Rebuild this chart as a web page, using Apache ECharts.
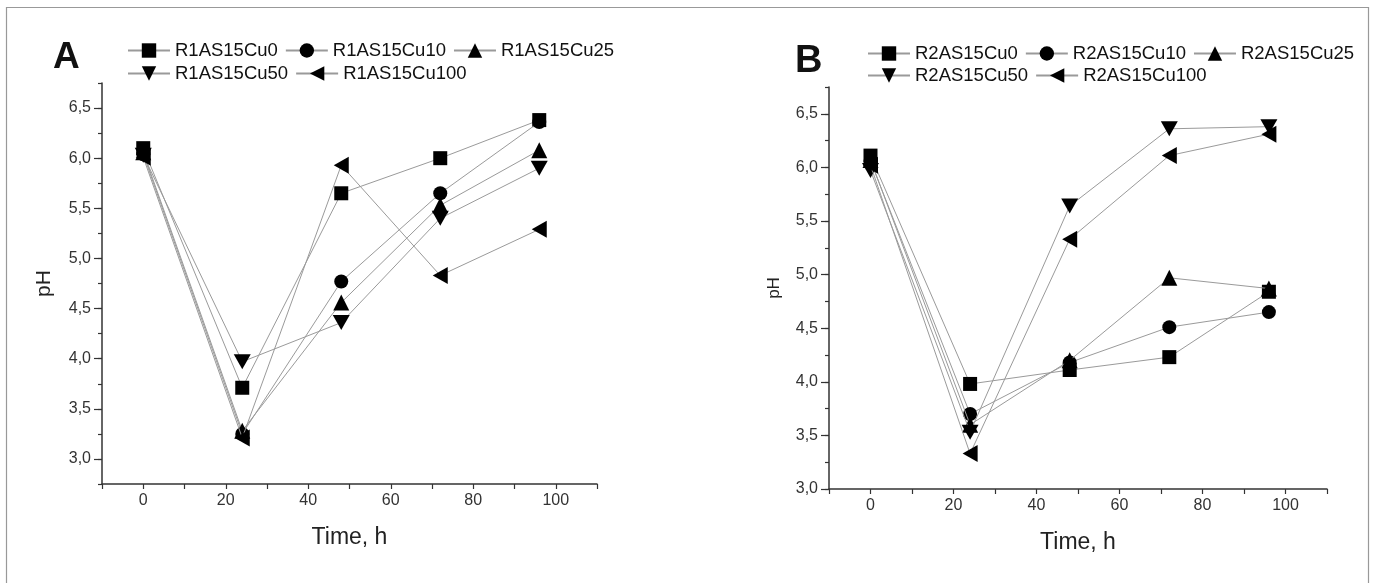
<!DOCTYPE html>
<html><head><meta charset="utf-8">
<script src="https://cdn.jsdelivr.net/npm/echarts@6/dist/echarts.min.js"></script>
<style>html,body{margin:0;padding:0;background:#fff}#c{width:1375px;height:583px}</style>
</head><body><div id="c"></div>
<script>
// ---- data ----
const times = [0, 24, 48, 72, 96];
const namesA = ['R1AS15Cu0', 'R1AS15Cu10', 'R1AS15Cu25', 'R1AS15Cu50', 'R1AS15Cu100'];
const namesB = ['R2AS15Cu0', 'R2AS15Cu10', 'R2AS15Cu25', 'R2AS15Cu50', 'R2AS15Cu100'];
const a_Cu0   = [6.10, 3.71, 5.65, 6.00, 6.38];
const a_Cu10  = [6.04, 3.25, 4.77, 5.65, 6.36];
const a_Cu25  = [6.06, 3.28, 4.56, 5.53, 6.08];
const a_Cu50  = [6.03, 3.97, 4.36, 5.40, 5.90];
const a_Cu100 = [6.01, 3.21, 5.93, 4.83, 5.29];
const b_Cu0   = [6.11, 3.98, 4.11, 4.23, 4.84];
const b_Cu10  = [6.06, 3.70, 4.18, 4.51, 4.65];
const b_Cu25  = [6.07, 3.60, 4.20, 4.97, 4.87];
const b_Cu50  = [5.97, 3.53, 5.64, 6.36, 6.38];
const b_Cu100 = [6.02, 3.33, 5.33, 6.11, 6.31];
const yMajorTicks = [3.0, 3.5, 4.0, 4.5, 5.0, 5.5, 6.0, 6.5];
const xLabelTicks = [0, 20, 40, 60, 80, 100];

// ---- styling ----
const FONT = '"Liberation Sans", Arial, sans-serif';
const AXC = '#333';
const LINEC = '#9a9a9a';
const symbols = [
  {symbol: 'rect', size: 14},
  {symbol: 'circle', size: 14},
  {symbol: 'triangle', size: 16},
  {symbol: 'path://M0,0 L10,0 L5,9 Z', size: [17, 15]},
  {symbol: 'path://M9,0 L9,10 L0,5 Z', size: [15, 17]}
];
const dataA = [a_Cu0, a_Cu10, a_Cu25, a_Cu50, a_Cu100];
const dataB = [b_Cu0, b_Cu10, b_Cu25, b_Cu50, b_Cu100];

function mkSeries(names, data, gi) {
  return names.map((n, i) => ({
    name: n, type: 'line',
    xAxisIndex: gi, yAxisIndex: gi * 2,
    data: times.map((t, k) => [t, data[i][k]]),
    symbol: symbols[i].symbol, symbolSize: symbols[i].size,
    showAllSymbol: true,
    itemStyle: {color: '#000', borderWidth: 0},
    lineStyle: {color: LINEC, width: 1},
    emphasis: {disabled: true},
    animation: false, z: 3 + i
  }));
}
const fmtY = v => {
  const r = Math.round(v * 100) / 100;
  return (Math.abs(r * 2 - Math.round(r * 2)) < 1e-6 && r >= 3 && r <= 6.5) ? r.toFixed(1).replace('.', ',') : '';
};
const fmtX = v => (xLabelTicks.indexOf(v) >= 0 ? String(v) : '');

function xAxis(gi) {
  return {
    type: 'value', gridIndex: gi, min: -10, max: 110, interval: 10,
    name: 'Time, h', nameLocation: 'middle', nameGap: 42,
    nameTextStyle: {fontSize: 23, color: '#222', fontFamily: FONT},
    axisLine: {show: true, onZero: false, lineStyle: {color: AXC, width: 1.5}},
    axisTick: {show: true, inside: false, length: 5, lineStyle: {color: AXC, width: 1.2}},
    axisLabel: {formatter: fmtX, fontSize: 16, color: '#333', fontFamily: FONT, margin: 9},
    splitLine: {show: false}
  };
}
function yAxes(gi, min, nameGap, nameSize) {
  return [{
    type: 'value', gridIndex: gi, min: min, max: 6.75, interval: 0.25,
    name: 'pH', nameLocation: 'middle', nameGap: nameGap, nameRotate: 90,
    nameTextStyle: {fontSize: nameSize, color: '#222', fontFamily: FONT},
    axisLine: {show: true, onZero: false, lineStyle: {color: AXC, width: 1.5}},
    axisTick: {show: true, inside: false, length: 4, lineStyle: {color: AXC, width: 1.2}},
    axisLabel: {formatter: fmtY, fontSize: 16, color: '#333', fontFamily: FONT, margin: 11},
    splitLine: {show: false}
  }, {
    type: 'value', gridIndex: gi, min: min, max: 6.75, position: 'left', offset: 0,
    axisLine: {show: false, onZero: false},
    axisTick: {show: true, inside: false, length: 8, customValues: yMajorTicks, lineStyle: {color: AXC, width: 1.2}},
    axisLabel: {show: false},
    splitLine: {show: false}
  }];
}
function legends(names, left, top1, top2) {
  const base = {
    orient: 'horizontal', itemWidth: 42, itemHeight: 18, itemGap: 7,
    textStyle: {fontSize: 18.5, color: '#111', fontFamily: FONT},
    selectedMode: false, padding: 0
  };
  return [
    Object.assign({}, base, {left: left, top: top1, data: names.slice(0, 3)}),
    Object.assign({}, base, {left: left, top: top2, data: names.slice(3)})
  ];
}

const chart = echarts.init(document.getElementById('c'), null, {renderer: 'canvas'});
chart.setOption({
  animation: false,
  backgroundColor: '#fff',
  title: [
    {text: 'A', left: 48, top: 34, textStyle: {fontSize: 37, fontWeight: 'bold', color: '#111', fontFamily: FONT}},
    {text: 'B', left: 790, top: 38, textStyle: {fontSize: 38, fontWeight: 'bold', color: '#111', fontFamily: FONT}}
  ],
  legend: legends(namesA, 127, 41, 64).concat(legends(namesB, 867, 44, 66)),
  grid: [
    {left: 102, top: 83, width: 495, height: 401},
    {left: 829, top: 87, width: 498, height: 402}
  ],
  xAxis: [xAxis(0), xAxis(1)],
  yAxis: yAxes(0, 2.75, 47, 21).concat(yAxes(1, 3.0, 46, 17)),
  series: mkSeries(namesA, dataA, 0).concat(mkSeries(namesB, dataB, 1)),
  graphic: [{
    type: 'rect', shape: {x: 6.5, y: 7.5, width: 1362, height: 600},
    style: {fill: null, stroke: '#999', lineWidth: 1.2}, silent: true
  }]
});
</script>
</body></html>
